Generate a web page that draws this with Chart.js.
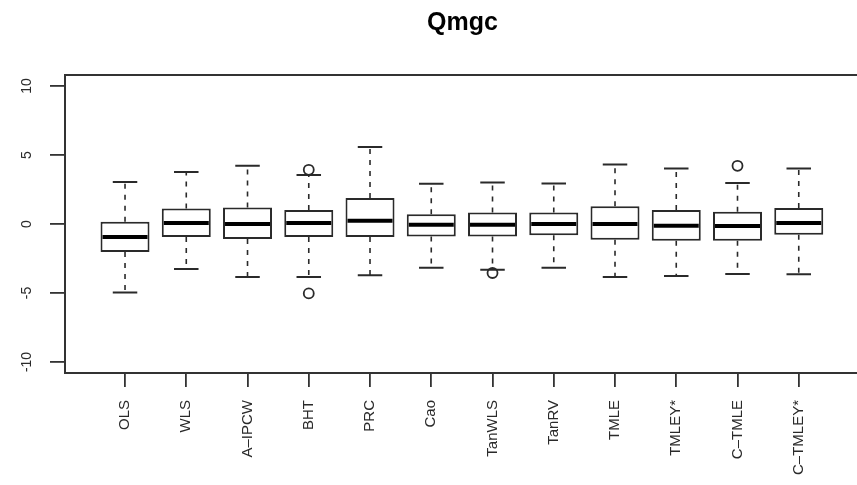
<!DOCTYPE html>
<html><head><meta charset="utf-8">
<script src="https://cdn.jsdelivr.net/npm/chart.js@4/dist/chart.umd.min.js"></script>
<style>html,body{margin:0;padding:0;background:#fff;overflow:hidden;width:857px;height:485px}canvas{display:block}</style>
</head><body>
<canvas id="c" width="872" height="485"></canvas>
<script>
const title = "Qmgc";
const categories = ["OLS","WLS","A\u2013IPCW","BHT","PRC","Cao","TanWLS","TanRV","TMLE","TMLEY*","C\u2013TMLE","C\u2013TMLEY*"];
const lowerWhisker = [-4.96,-3.26,-3.84,-3.84,-3.72,-3.17,-3.31,-3.17,-3.84,-3.77,-3.62,-3.65];
const q1           = [-2.03,-0.94,-1.09,-0.94,-0.94,-0.90,-0.90,-0.82,-1.14,-1.21,-1.21,-0.78];
const median       = [-0.94, 0.07, 0.00, 0.07, 0.24,-0.05,-0.05, 0.00, 0.00,-0.12,-0.14, 0.07];
const q3           = [ 0.17, 1.13, 1.20, 1.01, 1.88, 0.70, 0.84, 0.84, 1.28, 1.01, 0.89, 1.16];
const upperWhisker = [ 3.04, 3.77, 4.22, 3.55, 5.58, 2.92, 3.01, 2.94, 4.32, 4.03, 2.97, 4.03];
const outlierGroup = [4, 4, 7, 11];
const outlierValue = [3.93, -5.03, -3.55, 4.22];
const yTicks = [-10, -5, 0, 5, 10];

const FONT = "'Liberation Sans', Arial, Helvetica, sans-serif";
const INK = '#2a2a2a';

const boxPlugin = {
  id: 'boxParts',
  beforeDatasetsDraw(chart) {
    const ctx = chart.ctx, xs = chart.scales.x, ys = chart.scales.y;
    ctx.save();
    ctx.strokeStyle = INK;
    ctx.lineWidth = 1.6;
    const halfCap = (xs.getPixelForValue(1.2) - xs.getPixelForValue(1));
    categories.forEach((c, i) => {
      const x = xs.getPixelForValue(i + 1);
      ctx.setLineDash([5, 6]);
      ctx.beginPath();
      ctx.moveTo(x, ys.getPixelForValue(q3[i]));
      ctx.lineTo(x, ys.getPixelForValue(upperWhisker[i]));
      ctx.moveTo(x, ys.getPixelForValue(q1[i]));
      ctx.lineTo(x, ys.getPixelForValue(lowerWhisker[i]));
      ctx.stroke();
      ctx.setLineDash([]);
      ctx.lineWidth = 2;
      ctx.beginPath();
      [upperWhisker[i], lowerWhisker[i]].forEach(v => {
        const y = ys.getPixelForValue(v);
        ctx.moveTo(x - halfCap, y);
        ctx.lineTo(x + halfCap, y);
      });
      ctx.stroke();
      ctx.lineWidth = 1.6;
    });
    ctx.restore();
  },
  afterDatasetsDraw(chart) {
    const ctx = chart.ctx, xs = chart.scales.x, ys = chart.scales.y, a = chart.chartArea;
    ctx.save();
    const half = (xs.getPixelForValue(1.4) - xs.getPixelForValue(1));
    ctx.strokeStyle = '#000';
    ctx.lineWidth = 4;
    categories.forEach((c, i) => {
      const x = xs.getPixelForValue(i + 1);
      const y = ys.getPixelForValue(median[i]);
      ctx.beginPath();
      ctx.moveTo(x - half + 2, y);
      ctx.lineTo(x + half - 2, y);
      ctx.stroke();
    });
    ctx.strokeStyle = '#333';
    ctx.lineWidth = 2;
    ctx.strokeRect(a.left, a.top, a.right - a.left, a.bottom - a.top);
    ctx.fillStyle = INK;
    ctx.font = "14px " + FONT;
    ctx.textAlign = 'center';
    ctx.textBaseline = 'middle';
    ys.ticks.forEach(t => {
      const y = ys.getPixelForValue(t.value);
      ctx.save();
      ctx.translate(27, y);
      ctx.rotate(-Math.PI / 2);
      ctx.fillText(String(t.value), 0, 0);
      ctx.restore();
    });
    ctx.font = "bold 25px " + FONT;
    ctx.fillStyle = '#000';
    ctx.fillText(title, (a.left + a.right) / 2, 23);
    ctx.restore();
  }
};

new Chart(document.getElementById('c'), {
  type: 'bar',
  data: {
    datasets: [
      {
        type: 'bar',
        data: categories.map((c, i) => ({ x: i + 1, y: [q1[i], q3[i]] })),
        backgroundColor: '#ffffff',
        borderColor: INK,
        borderWidth: 2,
        borderSkipped: false,
        categoryPercentage: 1,
        barPercentage: 0.8,
        grouped: false
      },
      {
        type: 'scatter',
        data: outlierGroup.map((g, i) => ({ x: g, y: outlierValue[i] })),
        pointRadius: 5,
        pointBorderWidth: 1.8,
        pointBackgroundColor: 'rgba(0,0,0,0)',
        pointBorderColor: INK
      }
    ]
  },
  options: {
    responsive: false,
    animation: false,
    layout: { padding: { top: 75, right: 12, left: 0, bottom: 0 } },
    plugins: { legend: { display: false }, tooltip: { enabled: false }, title: { display: false } },
    scales: {
      x: {
        type: 'linear',
        offset: false,
        min: 0.02,
        max: 13.0,
        afterBuildTicks: s => { s.ticks = categories.map((c, i) => ({ value: i + 1 })); },
        afterFit: s => { s.height = 112; },
        border: { display: false },
        grid: { display: true, offset: false, drawOnChartArea: false, drawTicks: true, tickLength: 14, color: '#333', lineWidth: 1.8 },
        ticks: {
          autoSkip: false,
          minRotation: 90,
          maxRotation: 90,
          padding: 13,
          color: INK,
          font: { family: FONT, size: 15 },
          callback: v => categories[v - 1]
        }
      },
      y: {
        type: 'linear',
        min: -10.8,
        max: 10.8,
        afterBuildTicks: s => { s.ticks = yTicks.map(v => ({ value: v })); },
        afterFit: s => { s.width = 65; },
        border: { display: false },
        grid: { display: true, drawOnChartArea: false, drawTicks: true, tickLength: 15, color: '#333', lineWidth: 1.8 },
        ticks: { display: false }
      }
    }
  },
  plugins: [boxPlugin]
});
</script>
</body></html>
